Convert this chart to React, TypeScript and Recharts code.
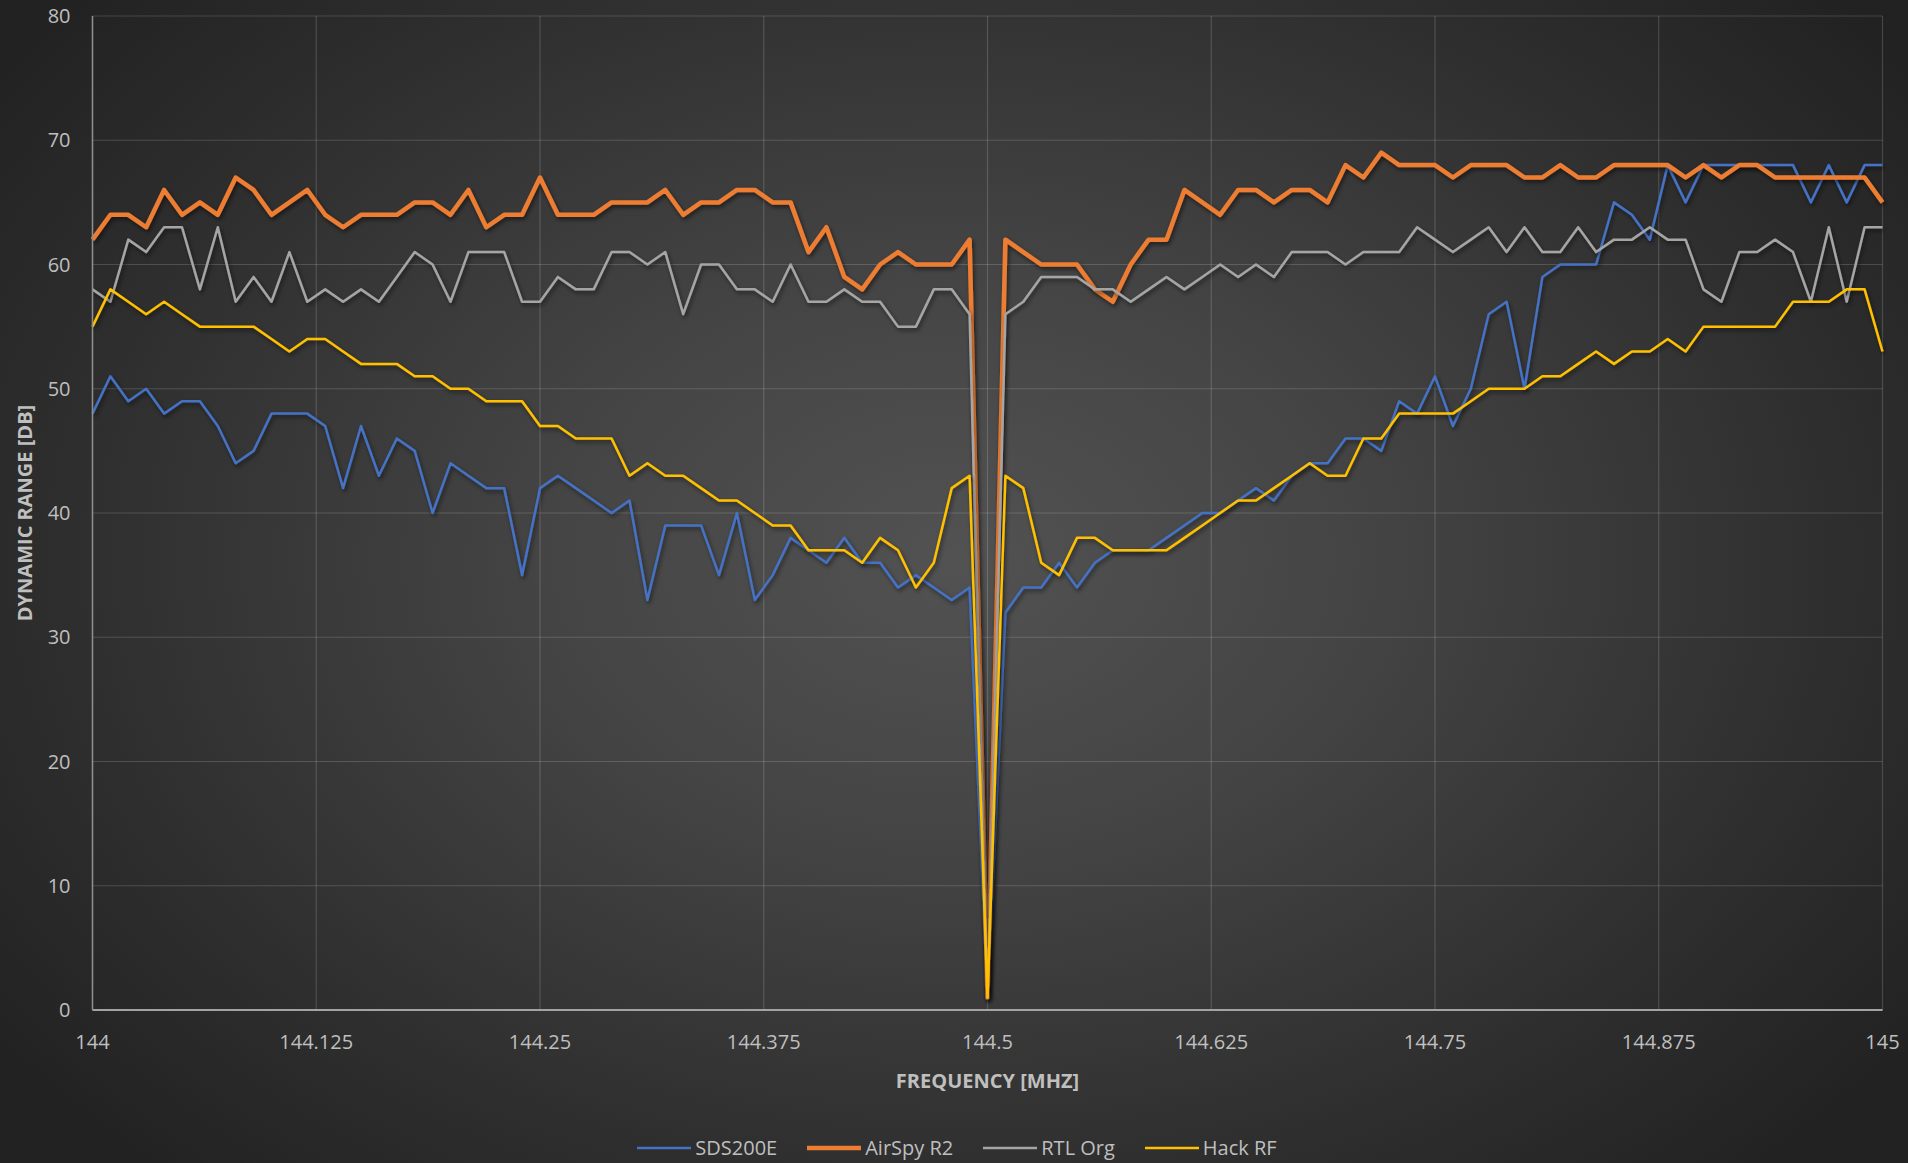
import React from 'react';
import { LineChart, Line, XAxis, YAxis, CartesianGrid, Legend, Label } from 'recharts';

// Sweep grid: 144.00 … 145.00 MHz in 10 kHz steps
const FREQ_START = 144;
const FREQ_STEP = 0.01;

// Dynamic range per receiver [dB], one value per sweep step
const sds200e = [
  48, 51, 49, 50, 48, 49, 49, 47, 44, 45, 48, 48, 48, 47, 42, 47, 43, 46, 45, 40, 44, 43, 42,
  42, 35, 42, 43, 42, 41, 40, 41, 33, 39, 39, 39, 35, 40, 33, 35, 38, 37,
  36, 38, 36, 36, 34, 35, 34, 33, 34,
  1,
  32, 34, 34, 36, 34, 36, 37,
  37, 37, 38, 39, 40, 40, 41, 42, 41, 43, 44, 44, 46, 46, 45, 49,
  48, 51, 47, 50, 56, 57, 50, 59, 60, 60, 60, 65, 64, 62, 68, 65, 68, 68, 68, 68, 68, 68, 65, 68, 65, 68, 68,
];

const airspyR2 = [
  62, 64, 64, 63, 66, 64, 65, 64, 67, 66, 64, 65, 66, 64, 63, 64, 64, 64, 65, 65, 64, 66, 63,
  64, 64, 67, 64, 64, 64, 65, 65, 65, 66, 64, 65, 65, 66, 66, 65, 65, 61, 63, 59, 58, 60, 61, 60, 60,
  60, 62,
  1,
  62, 61, 60, 60, 60, 58, 57, 60, 62, 62, 66, 65, 64, 66, 66, 65, 66, 66, 65, 68, 67, 69, 68,
  68, 68, 67, 68, 68, 68, 67, 67, 68, 67, 67, 68, 68, 68, 68, 67, 68, 67, 68, 68, 67, 67, 67, 67, 67, 67, 65,
];

const rtlOrg = [
  58, 57, 62, 61, 63, 63, 58, 63, 57, 59, 57, 61, 57, 58, 57, 58, 57, 59, 61, 60, 57, 61, 61,
  61, 57, 57, 59, 58, 58, 61, 61, 60, 61, 56, 60, 60, 58, 58, 57, 60, 57, 57, 58, 57, 57, 55, 55, 58,
  58, 56,
  1,
  56, 57, 59, 59, 59, 58, 58, 57, 58, 59, 58, 59, 60, 59, 60, 59, 61, 61, 61, 60, 61, 61, 61,
  63, 62, 61, 62, 63, 61, 63, 61, 61, 63, 61, 62, 62, 63, 62, 62, 58, 57, 61, 61, 62, 61, 57, 63, 57, 63, 63,
];

const hackRf = [
  55, 58, 57, 56, 57, 56, 55, 55, 55, 55, 54, 53, 54, 54, 53, 52, 52, 52, 51, 51, 50, 50, 49,
  49, 49, 47, 47, 46, 46, 46, 43, 44, 43, 43, 42, 41, 41, 40, 39, 39, 37,
  37, 37, 36, 38, 37, 34, 36, 42, 43,
  1,
  43, 42, 36, 35, 38, 38, 37,
  37, 37, 37, 38, 39, 40, 41, 41, 42, 43, 44, 43, 43, 46, 46, 48,
  48, 48, 48, 49, 50, 50, 50, 51, 51, 52, 53, 52, 53, 53, 54, 53, 55, 55, 55, 55, 55, 57, 57, 57, 58, 58, 53,
];

const xTicks = [144, 144.125, 144.25, 144.375, 144.5, 144.625, 144.75, 144.875, 145];
const yTicks = [0, 10, 20, 30, 40, 50, 60, 70, 80];

const xTitle = 'FREQUENCY [MHZ]';
const yTitle = 'DYNAMIC RANGE [DB]';

const SERIES = [
  { key: 'sds200e', name: 'SDS200E', color: '#4472C4', width: 2.5 },
  { key: 'airspyR2', name: 'AirSpy R2', color: '#ED7D31', width: 4.5 },
  { key: 'rtlOrg', name: 'RTL Org', color: '#A5A5A5', width: 2.5 },
  { key: 'hackRf', name: 'Hack RF', color: '#FFC000', width: 2.5 },
];

const data = sds200e.map((_, i) => ({
  freq: Number((FREQ_START + i * FREQ_STEP).toFixed(2)),
  sds200e: sds200e[i],
  airspyR2: airspyR2[i],
  rtlOrg: rtlOrg[i],
  hackRf: hackRf[i],
}));

const FONT = '"Open Sans", "DejaVu Sans", sans-serif';
const TEXT_COLOR = '#bfbfbf';
const W = 1908;
const H = 1163;

const renderLegend = () => (
  <div
    style={{
      display: 'flex',
      justifyContent: 'center',
      alignItems: 'center',
      height: 30,
      gap: 30,
      fontFamily: FONT,
      fontSize: 20,
      color: TEXT_COLOR,
      whiteSpace: 'nowrap',
    }}
  >
    {SERIES.map((s) => (
      <div key={s.key} style={{ display: 'flex', alignItems: 'center' }}>
        <svg width={54} height={10} style={{ display: 'block' }}>
          <line x1={0} y1={5} x2={54} y2={5} stroke={s.color} strokeWidth={s.width} />
        </svg>
        <span style={{ marginLeft: 4, lineHeight: '30px' }}>{s.name}</span>
      </div>
    ))}
  </div>
);

const XTitle = (props: any) => {
  const vb = props.viewBox || { x: 92.5, y: 1010, width: 1790, height: 123 };
  return (
    <text
      x={vb.x + vb.width / 2}
      y={vb.y + 77.5}
      textAnchor="middle"
      fontFamily={FONT}
      fontWeight={700}
      fontSize={20}
      fill={TEXT_COLOR}
    >
      {xTitle}
    </text>
  );
};

const YTitle = (props: any) => {
  const vb = props.viewBox || { x: 0, y: 16, width: 92.5, height: 994 };
  const x = vb.x + 32;
  const y = vb.y + vb.height / 2;
  return (
    <text
      x={x}
      y={y}
      transform={`rotate(-90, ${x}, ${y})`}
      textAnchor="middle"
      fontFamily={FONT}
      fontWeight={700}
      fontSize={20}
      fill={TEXT_COLOR}
    >
      {yTitle}
    </text>
  );
};

export default function App() {
  return (
    <div
      style={{
        position: 'absolute',
        left: 0,
        top: 0,
        width: W,
        height: H,
        overflow: 'hidden',
        background:
          'radial-gradient(ellipse 62% 72% at 50% 48%, #525252 0%, #444444 35%, #2e2e2e 75%, #222222 100%)',
      }}
    >
      <style>{`.recharts-line-curve { filter: url(#lineShadow); }`}</style>
      <svg width={0} height={0} style={{ position: 'absolute' }}>
        <defs>
          <filter id="lineShadow" x="-5%" y="-5%" width="110%" height="115%">
            <feDropShadow dx={1.5} dy={2.5} stdDeviation={2} floodColor="#000000" floodOpacity={0.55} />
          </filter>
        </defs>
      </svg>
      <LineChart
        width={W}
        height={H}
        data={data}
        margin={{ top: 16, right: 25.5, left: 0, bottom: 0 }}
      >
        <CartesianGrid stroke="rgba(255,255,255,0.16)" strokeWidth={1.2} />
        <XAxis
          dataKey="freq"
          type="number"
          domain={[144, 145]}
          ticks={xTicks}
          interval={0}
          height={123}
          tickSize={0}
          tickMargin={25}
          tickLine={false}
          axisLine={{ stroke: '#a3a3a3', strokeWidth: 2 }}
          tick={{ fill: TEXT_COLOR, fontFamily: FONT, fontSize: 20 }}
        >
          <Label content={<XTitle />} />
        </XAxis>
        <YAxis
          type="number"
          domain={[0, 80]}
          ticks={yTicks}
          interval={0}
          width={92.5}
          tickSize={0}
          tickMargin={22}
          tickLine={false}
          axisLine={{ stroke: '#8f8f8f', strokeWidth: 1.5 }}
          tick={{ fill: TEXT_COLOR, fontFamily: FONT, fontSize: 20 }}
        >
          <Label content={<YTitle />} />
        </YAxis>
        <Legend
          verticalAlign="bottom"
          content={renderLegend}
          wrapperStyle={{ left: 3, width: W }}
        />
        {SERIES.map((s) => (
          <Line
            key={s.key}
            type="linear"
            dataKey={s.key}
            name={s.name}
            stroke={s.color}
            strokeWidth={s.width}
            strokeLinejoin="round"
            dot={false}
            activeDot={false}
            isAnimationActive={false}
          />
        ))}
      </LineChart>
    </div>
  );
}
